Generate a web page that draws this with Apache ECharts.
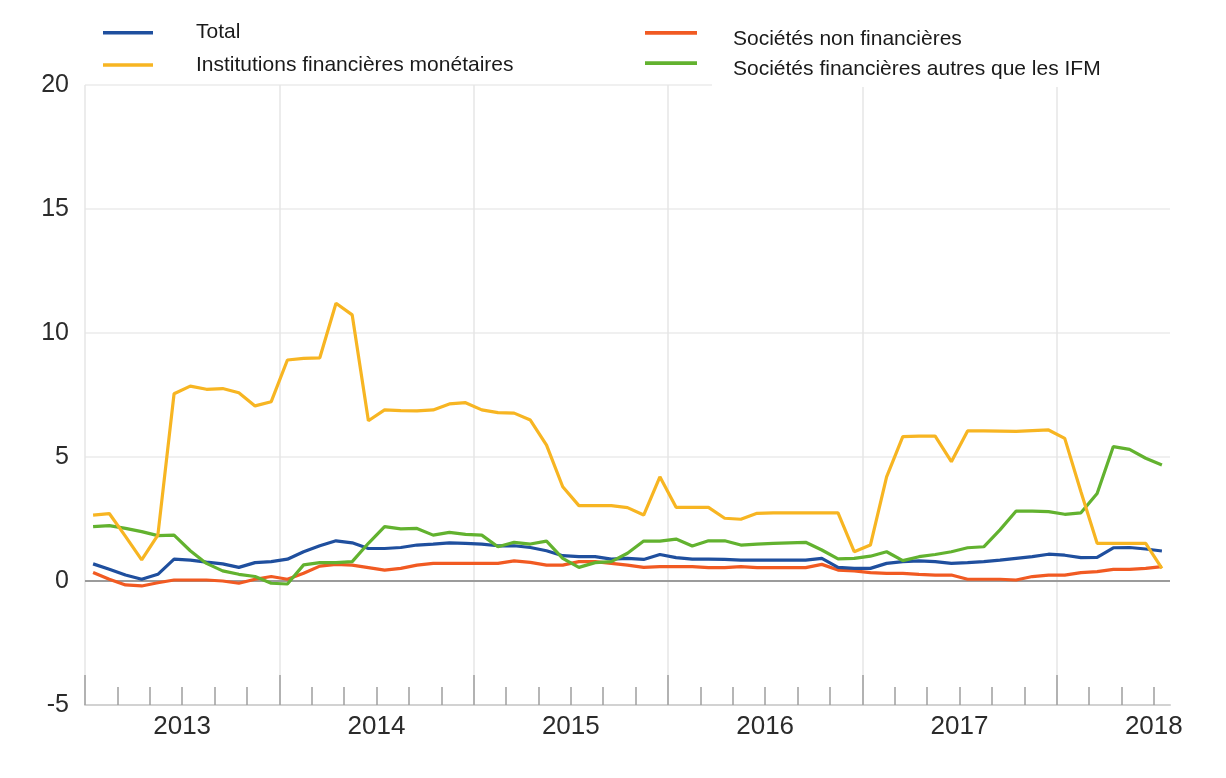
<!DOCTYPE html>
<html>
<head>
<meta charset="utf-8">
<script src="https://cdn.jsdelivr.net/npm/echarts@6/dist/echarts.min.js"></script>
<style>
  html, body { margin: 0; padding: 0; background: #fff; }
  #chart { width: 1226px; height: 778px; }
</style>
</head>
<body>
<div id="chart"></div>
<script>
// ---- Data (monthly, Jan 2013 – Jul 2018) ----
const years = ['2013', '2014', '2015', '2016', '2017', '2018'];
const months = [];
for (let y = 2013; y <= 2018; y++) {
  for (let m = 1; m <= 12; m++) {
    if (y === 2018 && m > 7) break;
    months.push(y + '-' + (m < 10 ? '0' + m : m));
  }
}

const total = [
  0.69, 0.47, 0.24, 0.07, 0.27, 0.88, 0.84, 0.76, 0.69, 0.55, 0.74, 0.78,
  0.88, 1.18, 1.42, 1.62, 1.54, 1.31, 1.31, 1.35, 1.45, 1.49, 1.54, 1.52,
  1.49, 1.42, 1.42, 1.35, 1.22, 1.02, 0.98, 0.98, 0.88, 0.91, 0.87, 1.07,
  0.94, 0.88, 0.88, 0.87, 0.84, 0.84, 0.84, 0.84, 0.84, 0.91, 0.55, 0.51,
  0.51, 0.71, 0.78, 0.81, 0.78, 0.71, 0.74, 0.78, 0.84, 0.91, 0.98, 1.08,
  1.04, 0.94, 0.95, 1.34, 1.35, 1.29, 1.21
];
const ifm = [
  2.66, 2.72, 1.80, 0.85, 1.85, 7.55, 7.86, 7.73, 7.76, 7.59, 7.06, 7.23,
  8.91, 8.98, 9.00, 11.20, 10.73, 6.46, 6.90, 6.87, 6.86, 6.90, 7.14, 7.19,
  6.90, 6.79, 6.77, 6.49, 5.48, 3.80, 3.04, 3.04, 3.04, 2.96, 2.66, 4.20,
  2.97, 2.97, 2.97, 2.53, 2.49, 2.73, 2.75, 2.75, 2.75, 2.75, 2.75, 1.18,
  1.45, 4.20, 5.82, 5.84, 5.84, 4.81, 6.05, 6.05, 6.04, 6.03, 6.06, 6.09,
  5.75, 3.60, 1.52, 1.52, 1.52, 1.52, 0.51
];
const nfc = [
  0.34, 0.07, -0.16, -0.20, -0.07, 0.04, 0.04, 0.04, 0.00, -0.09, 0.07, 0.18,
  0.07, 0.31, 0.60, 0.67, 0.64, 0.54, 0.44, 0.51, 0.64, 0.71, 0.71, 0.71,
  0.71, 0.71, 0.81, 0.75, 0.64, 0.64, 0.78, 0.78, 0.71, 0.64, 0.55, 0.58,
  0.58, 0.58, 0.54, 0.54, 0.58, 0.54, 0.54, 0.54, 0.54, 0.67, 0.44, 0.41,
  0.34, 0.31, 0.31, 0.27, 0.24, 0.24, 0.07, 0.07, 0.07, 0.04, 0.18, 0.24,
  0.24, 0.34, 0.38, 0.47, 0.47, 0.51, 0.58
];
const ofi = [
  2.19, 2.23, 2.12, 1.99, 1.83, 1.85, 1.22, 0.71, 0.41, 0.27, 0.18, -0.09,
  -0.12, 0.65, 0.74, 0.74, 0.78, 1.52, 2.19, 2.10, 2.12, 1.85, 1.96, 1.88,
  1.85, 1.38, 1.56, 1.49, 1.61, 0.91, 0.55, 0.74, 0.78, 1.12, 1.61, 1.61,
  1.69, 1.41, 1.62, 1.62, 1.45, 1.49, 1.52, 1.54, 1.56, 1.25, 0.89, 0.91,
  1.00, 1.18, 0.82, 0.98, 1.07, 1.18, 1.34, 1.38, 2.06, 2.82, 2.82, 2.80,
  2.69, 2.75, 3.53, 5.42, 5.31, 4.95, 4.68
];
const names = ['Total', 'Institutions financières monétaires', 'Sociétés non financières', 'Sociétés financières autres que les IFM'];

// ---- Layout ----
const W = 1226;
const gLeft = 85, gRight = 56, gTop = 85, gBottom = 73;
const n = months.length;
const band = (W - gLeft - gRight) / n;
const lastMinor = n - 1 - ((n - 1) % 2);       // last even month boundary
const lastMajor = Math.floor((n - 1) / 12) * 12; // last January boundary
const rightMinor = W - gLeft - lastMinor * band;
const rightMajor = W - gLeft - lastMajor * band;

const FONT = "'Liberation Sans', Arial, Helvetica, sans-serif";
const colors = { total: '#1f4f9e', ifm: '#f7b522', nfc: '#f15a22', ofi: '#62b22f' };

const chart = echarts.init(document.getElementById('chart'), null, { renderer: 'canvas' });

function lineSeries(name, data, color, extra) {
  return Object.assign({
    name: name, type: 'line', data: data,
    xAxisIndex: 0, yAxisIndex: 0,
    symbol: 'none', showSymbol: false,
    lineStyle: { width: 3.2, color: color },
    itemStyle: { color: color },
    z: 3
  }, extra || {});
}

const option = {
  animation: false,
  backgroundColor: '#ffffff',
  textStyle: { fontFamily: FONT },
  graphic: [{
    type: 'rect', left: 712, top: 0, z: 5,
    shape: { width: W - 712, height: 87 },
    style: { fill: '#ffffff' }
  }],
  legend: [
    {
      data: [names[0], names[1]],
      orient: 'vertical', left: 98, top: 15.7, z: 10,
      icon: 'rect', itemWidth: 50, itemHeight: 3.6, itemGap: 8.3,
      selectedMode: false,
      textStyle: { fontFamily: FONT, fontSize: 21, color: '#1a1a1a', lineHeight: 18, padding: [0, 0, 6, 38] }
    },
    {
      data: [names[2], names[3]],
      orient: 'vertical', left: 640, top: 11.4, z: 10,
      icon: 'rect', itemWidth: 52, itemHeight: 3.6, itemGap: -2.8,
      selectedMode: false,
      formatter: function (name) { return '{r|' + name + '}'; },
      textStyle: {
        fontFamily: FONT, fontSize: 21, color: '#1a1a1a', lineHeight: 18, padding: [0, 0, 0, 31],
        rich: { r: { fontFamily: FONT, fontSize: 21, color: '#1a1a1a', lineHeight: 18, padding: [12, 0, 0, 0] } }
      }
    }
  ],
  grid: [
    { left: gLeft, right: gRight, top: gTop, bottom: gBottom },
    { left: gLeft, right: rightMinor, top: gTop, bottom: gBottom },
    { left: gLeft, right: rightMajor, top: gTop, bottom: gBottom }
  ],
  xAxis: [
    {
      gridIndex: 0, type: 'category', data: months, boundaryGap: true,
      axisLine: { show: true, onZero: false, lineStyle: { color: '#d2d2d2', width: 2 } },
      axisTick: { show: false }, axisLabel: { show: false }, splitLine: { show: false }
    },
    {
      gridIndex: 1, type: 'value', min: 0, max: lastMinor, interval: 2,
      axisLine: { show: false, onZero: false },
      axisTick: { show: true, inside: true, length: 18, lineStyle: { color: '#9e9e9e', width: 1.5 } },
      splitLine: { show: false },
      axisLabel: {
        show: true, margin: 9, fontSize: 26, color: '#2b2b2b', fontFamily: FONT,
        showMinLabel: true, showMaxLabel: true,
        formatter: function (v) {
          return (v % 12 === 6) ? years[(v - 6) / 12] : '';
        }
      }
    },
    {
      gridIndex: 2, type: 'value', min: 0, max: lastMajor, interval: 12,
      axisLine: { show: false, onZero: false },
      axisTick: { show: true, inside: true, length: 30, lineStyle: { color: '#9e9e9e', width: 1.5 } },
      axisLabel: { show: false },
      splitLine: { show: true, lineStyle: { color: '#e6e6e6', width: 1.5 } }
    }
  ],
  yAxis: [
    {
      gridIndex: 0, type: 'value', min: -5, max: 20, interval: 5,
      axisLine: { show: false }, axisTick: { show: false },
      axisLabel: { fontSize: 25, color: '#2b2b2b', margin: 16, fontFamily: FONT },
      splitLine: { show: true, lineStyle: { color: '#ebebeb', width: 1.5 } }
    },
    { gridIndex: 1, type: 'value', min: -5, max: 20, interval: 5, show: false },
    { gridIndex: 2, type: 'value', min: -5, max: 20, interval: 5, show: false }
  ],
  series: [
    lineSeries(names[2], nfc, colors.nfc, {
      markLine: {
        silent: true, symbol: ['none', 'none'], label: { show: false },
        lineStyle: { color: '#9b9b9b', width: 2, type: 'solid' },
        data: [{ yAxis: 0 }], z: 1
      }
    }),
    lineSeries(names[0], total, colors.total),
    lineSeries(names[3], ofi, colors.ofi),
    lineSeries(names[1], ifm, colors.ifm)
  ]
};

chart.setOption(option);
</script>
</body>
</html>
